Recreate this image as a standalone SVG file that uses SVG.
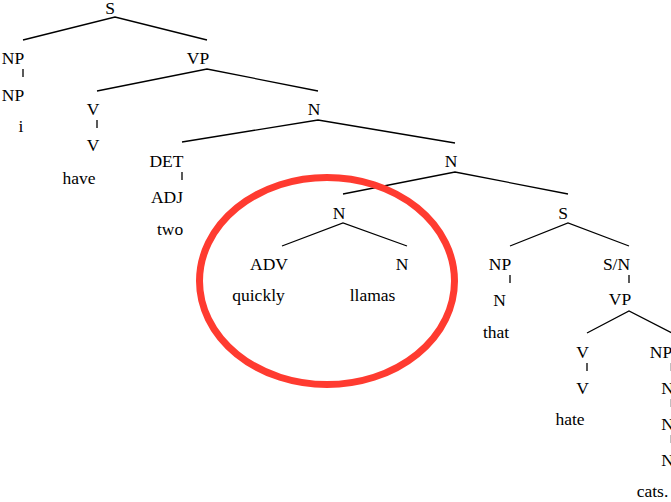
<svg xmlns="http://www.w3.org/2000/svg" width="671" height="502" viewBox="0 0 671 502">
  <style>
    .lbl text { font-family: "Liberation Serif", "Times New Roman", serif; font-size: 17.5px; fill: #000; text-anchor: middle; }
    .edge { stroke: #000; stroke-width: 1.3; fill: none; }
    .tick { stroke: #000; stroke-width: 1.3; }
    .faint { stroke: #000; stroke-width: 1; opacity: 0.5; }
    .mark { fill: none; stroke: #ff3b30; stroke-width: 7; }
  </style>
  <rect width="671" height="502" fill="#fff"/>

  <!-- branches of the parse tree -->
  <g id="connectors">
    <polyline class="edge" points="23,40 115,17 207,40"/>
    <polyline class="edge" points="97,91 207,69 318,91"/>
    <polyline class="edge" points="182,142 318,120 455,143"/>
    <polyline class="edge" points="343,194 455,172 568,194"/>
    <polyline class="edge" points="282,246 343,223 407,246"/>
    <polyline class="edge" points="510,246 568,223 629,246"/>
    <polyline class="edge" points="587,333 629,311 672,333"/>
    <line class="tick" x1="23" y1="69" x2="23" y2="77"/>
    <line class="tick" x1="97" y1="120" x2="97" y2="128"/>
    <line class="tick" x1="182" y1="172" x2="182" y2="180"/>
    <line class="tick" x1="510" y1="275" x2="510" y2="283"/>
    <line class="tick" x1="629" y1="275" x2="629" y2="283"/>
    <line class="tick" x1="587" y1="363" x2="587" y2="371"/>
    <line class="faint" x1="671" y1="363" x2="671" y2="371"/>
    <line class="faint" x1="671" y1="399" x2="671" y2="407"/>
    <line class="faint" x1="671" y1="435" x2="671" y2="443"/>
  </g>

  <g class="lbl">
    <g id="n-s"><text x="110" y="14">S</text></g>
    <g id="n-np"><text x="13" y="64">NP</text><text x="13" y="101">NP</text><text x="21" y="132">i</text></g>
    <g id="n-vp"><text x="198" y="64">VP</text></g>
    <g id="n-v"><text x="93" y="115">V</text><text x="93" y="151">V</text><text x="79" y="184">have</text></g>
    <g id="n-n1"><text x="314" y="115">N</text></g>
    <g id="n-det"><text x="166.5" y="167">DET</text><text x="167" y="203">ADJ</text><text x="170" y="235">two</text></g>
    <g id="n-n2"><text x="451" y="167">N</text></g>
    <g id="n-n3"><text x="339" y="219">N</text></g>
    <g id="n-adv"><text x="269" y="270">ADV</text><text x="258.5" y="301">quickly</text></g>
    <g id="n-n4"><text x="402" y="270">N</text><text x="372.5" y="301">llamas</text></g>
    <g id="n-s2"><text x="563" y="219">S</text></g>
    <g id="n-np2"><text x="500" y="270">NP</text><text x="499.5" y="306">N</text><text x="496" y="338">that</text></g>
    <g id="n-sn"><text x="616.5" y="270">S/N</text><text x="620" y="305">VP</text></g>
    <g id="n-v2"><text x="582.5" y="358">V</text><text x="582.5" y="394">V</text><text x="570" y="425">hate</text></g>
    <g id="n-np3"><text x="661" y="358">NP</text><text x="667.5" y="394">N</text><text x="667.5" y="430">N</text><text x="667.5" y="466">N</text><text x="652.5" y="497">cats.</text></g>
  </g>

  <!-- highlight ring -->
  <ellipse class="mark" cx="327" cy="281" rx="127.5" ry="103.5"/>
</svg>
